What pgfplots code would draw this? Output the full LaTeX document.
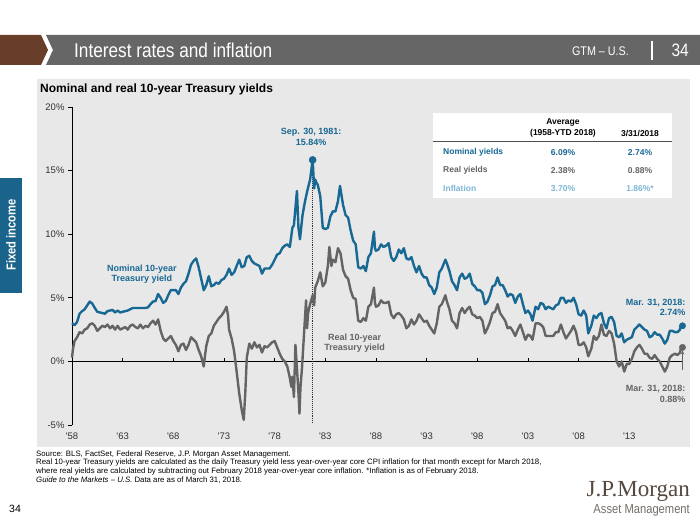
\documentclass[border=0pt]{standalone}
\usepackage{fontspec}
\setmainfont{Liberation Sans}
\newfontfamily\condfont[FakeStretch=0.86,Ligatures=TeX]{Liberation Sans}
\newfontfamily\seriffont[Ligatures=TeX]{Liberation Serif}
\usepackage{pgfplots}
\pgfplotsset{compat=1.18}
\definecolor{jpblue}{RGB}{24,104,148}
\definecolor{jpgray}{RGB}{100,100,100}
\definecolor{jplight}{RGB}{125,182,214}
\definecolor{panel}{RGB}{232,232,232}
\definecolor{hdrgray}{RGB}{102,102,102}
\definecolor{hdrbrown}{RGB}{104,62,42}
\definecolor{tabblue}{RGB}{26,100,140}
\definecolor{tickgray}{RGB}{50,50,50}
\definecolor{logo}{RGB}{85,72,62}
\begin{document}
\begin{tikzpicture}
\path[use as bounding box] (0pt,0pt) rectangle (700pt,525pt);
\fill[white] (0pt,0pt) rectangle (700pt,525pt);
\begin{scope}[x=1pt,y=-1pt,shift={(0pt,525pt)}]
% header
\fill[hdrbrown] (0,35) -- (41,35) -- (48,50) -- (41,65) -- (0,65) -- cycle;
\fill[hdrgray] (46,35) -- (700,35) -- (700,65) -- (46,65) -- (53,50) -- cycle;
\node[anchor=west,text=white,inner sep=0pt,font=\condfont\fontsize{20}{22}\selectfont] at (74,50) {Interest rates and inflation};
\node[anchor=east,text=white,inner sep=0pt,font=\condfont\fontsize{12.5}{14}\selectfont] at (629,51) {GTM – U.S.};
\draw[white,line width=1.3pt] (652,41) -- (652,60);
\node[anchor=east,text=white,inner sep=0pt,font=\condfont\fontsize{18}{20}\selectfont] at (689,50) {34};
% side tab
\fill[tabblue] (0,178) rectangle (22,293);
\node[rotate=90,text=white,inner sep=0pt,font=\condfont\bfseries\fontsize{13}{15}\selectfont] at (11,235) {Fixed income};
% panel
\fill[panel] (37,79) rectangle (690,447);
\node[anchor=west,inner sep=0pt,font=\bfseries\fontsize{12}{14}\selectfont] at (40,89) {Nominal and real 10-year Treasury yields};
% table
\fill[white] (433,113) rectangle (672,198);
\draw[jpgray!80!black,line width=1pt] (433,142) -- (672,142);
\begin{scope}[every node/.style={inner sep=0pt,font=\bfseries\fontsize{8.5}{11}\selectfont}]
\node[align=center] at (563,128) {Average\\(1958-YTD 2018)};
\node at (640,134) {3/31/2018};
\node[anchor=west,text=jpblue] at (443,152.5) {Nominal yields};
\node[text=jpblue] at (563,152.5) {6.09\%};
\node[text=jpblue] at (640,152.5) {2.74\%};
\node[anchor=west,text=jpgray] at (443,170.5) {Real yields};
\node[text=jpgray] at (563,170.5) {2.38\%};
\node[text=jpgray] at (640,170.5) {0.88\%};
\node[anchor=west,text=jplight] at (443,188.5) {Inflation};
\node[text=jplight] at (563,188.5) {3.70\%};
\node[text=jplight] at (640,188.5) {1.86\%*};
\end{scope}
% footnotes
\begin{scope}[every node/.style={anchor=base west,inner sep=0pt,font=\fontsize{7.8}{9}\selectfont}]
\node at (36,456) {Source: BLS, FactSet, Federal Reserve, J.P. Morgan Asset Management.};
\node at (36,464.7) {Real 10-year Treasury yields are calculated as the daily Treasury yield less year-over-year core CPI inflation for that month except for March 2018,};
\node at (36,473.4) {where real yields are calculated by subtracting out February 2018 year-over-year core inflation. *Inflation is as of February 2018.};
\node at (36,482.1) {\textit{Guide to the Markets – U.S.} Data are as of March 31, 2018.};
\end{scope}
\node[anchor=base west,inner sep=0pt,font=\fontsize{10.5}{12}\selectfont] at (9,512) {34};
% logo
\node[anchor=base east,inner sep=0pt,text=logo,font=\seriffont\fontsize{23}{26}\selectfont] at (690,496) {J.P.Morgan};
\node[anchor=base east,inner sep=0pt,text=logo!80,font=\condfont\fontsize{13}{15}\selectfont] at (690,513) {Asset Management};
\end{scope}

\begin{axis}[
  at={(72pt,100pt)}, anchor=south west,
  scale only axis, width=612pt, height=318pt,
  xmin=1958, xmax=2018.4, ymin=-5, ymax=20,
  axis x line=bottom, axis y line=left,
  axis line style={-},
  x axis line style={draw=none},
  y axis line style={black,line width=0.8pt},
  xtick={1958,1963,1968,1973,1978,1983,1988,1993,1998,2003,2008,2013},
  xticklabels={\textquotesingle58,\textquotesingle63,\textquotesingle68,\textquotesingle73,\textquotesingle78,\textquotesingle83,\textquotesingle88,\textquotesingle93,\textquotesingle98,\textquotesingle03,\textquotesingle08,\textquotesingle13},
  ytick={-5,0,5,10,15,20},
  yticklabel={\pgfmathprintnumber{\tick}\%},
  xtick style={draw=none},
  ytick style={black,line width=0.8pt},
  tick align=outside, major tick length=4pt,
  ticklabel style={font=\fontsize{9.5}{11}\selectfont, text=tickgray},
  /pgf/number format/assume math mode=true,
  clip=false,
]
\draw[black,line width=0.8pt] (axis cs:1958,0) -- (axis cs:2018.3,0);
\pgfplotsinvokeforeach{1963,1968,1973,1978,1983,1988,1993,1998,2003,2008,2013}{
  \draw[black,line width=0.6pt] (axis cs:#1,0) -- ++(0pt,3pt);
}
\draw[black!80,line width=0.9pt,densely dotted] (axis cs:1981.75,15.84) -- (axis cs:1981.75,-4.9);

\addplot[jpblue,line width=2.4pt,line join=round] coordinates {
(1958.00,3.00)(1958.25,2.85)(1958.50,3.10)(1958.75,3.75)
(1959.00,3.95)(1959.25,4.10)(1959.50,4.40)(1959.75,4.70)
(1960.00,4.55)(1960.25,4.20)(1960.50,3.90)(1960.75,3.85)
(1961.00,3.80)(1961.25,3.75)(1961.50,3.95)(1961.75,4.00)
(1962.00,4.05)(1962.25,3.85)(1962.50,4.00)(1962.75,3.85)
(1963.00,3.90)(1963.25,3.95)(1963.50,4.00)(1963.75,4.10)
(1964.00,4.20)(1964.25,4.20)(1964.50,4.20)(1964.75,4.20)
(1965.00,4.20)(1965.25,4.20)(1965.50,4.25)(1965.75,4.50)
(1966.00,4.70)(1966.25,4.75)(1966.50,5.30)(1966.75,5.00)
(1967.00,4.60)(1967.25,4.75)(1967.50,5.20)(1967.75,5.60)
(1968.00,5.60)(1968.25,5.60)(1968.50,5.30)(1968.75,5.80)
(1969.00,6.10)(1969.25,6.30)(1969.50,6.90)(1969.75,7.60)
(1970.00,7.90)(1970.25,8.10)(1970.50,7.40)(1970.75,6.50)
(1971.00,5.60)(1971.25,6.00)(1971.50,6.70)(1971.75,5.90)
(1972.00,6.00)(1972.25,6.20)(1972.50,6.10)(1972.75,6.40)
(1973.00,6.50)(1973.25,6.80)(1973.50,7.30)(1973.75,6.80)
(1974.00,7.00)(1974.25,7.50)(1974.50,8.00)(1974.75,7.40)
(1975.00,7.50)(1975.25,8.20)(1975.50,8.30)(1975.75,7.90)
(1976.00,7.70)(1976.25,7.60)(1976.50,7.50)(1976.75,6.90)
(1977.00,7.30)(1977.25,7.30)(1977.50,7.30)(1977.75,7.60)
(1978.00,8.00)(1978.25,8.40)(1978.50,8.50)(1978.75,8.90)
(1979.00,9.10)(1979.25,9.20)(1979.50,9.00)(1979.75,10.50)
(1979.90,10.70)(1980.10,12.50)(1980.20,13.40)(1980.35,10.50)
(1980.50,9.60)(1980.75,11.50)(1981.00,12.60)(1981.25,13.50)
(1981.50,14.30)(1981.75,15.84)(1981.90,13.60)(1982.00,14.30)
(1982.15,14.00)(1982.25,13.90)(1982.50,13.00)(1982.65,11.50)
(1982.75,10.50)(1983.00,10.40)(1983.25,10.50)(1983.50,11.40)
(1983.75,11.80)(1984.00,11.80)(1984.25,12.60)(1984.45,13.80)
(1984.75,12.30)(1985.00,11.50)(1985.25,11.30)(1985.50,10.30)
(1985.75,9.50)(1986.00,9.20)(1986.25,7.40)(1986.50,7.30)
(1986.75,7.50)(1987.00,7.10)(1987.25,8.20)(1987.50,8.50)
(1987.80,10.20)(1987.90,8.90)(1988.00,8.70)(1988.25,8.80)
(1988.50,9.20)(1988.75,9.00)(1989.00,9.10)(1989.25,9.30)
(1989.50,8.20)(1989.75,7.90)(1990.00,8.20)(1990.25,8.80)
(1990.50,8.50)(1990.75,8.90)(1991.00,8.10)(1991.25,8.00)
(1991.50,8.20)(1991.75,7.50)(1992.00,7.00)(1992.25,7.50)
(1992.50,6.90)(1992.75,6.60)(1993.00,6.60)(1993.25,6.00)
(1993.50,5.80)(1993.75,5.30)(1994.00,5.80)(1994.25,7.00)
(1994.50,7.30)(1994.85,8.00)(1995.00,7.70)(1995.25,7.10)
(1995.50,6.30)(1995.75,6.00)(1996.00,5.60)(1996.25,6.60)
(1996.50,6.90)(1996.75,6.50)(1997.00,6.60)(1997.25,6.90)
(1997.50,6.10)(1997.75,5.90)(1998.00,5.60)(1998.25,5.60)
(1998.50,5.40)(1998.75,4.50)(1999.00,4.70)(1999.25,5.20)
(1999.50,5.90)(1999.75,6.00)(2000.00,6.60)(2000.25,6.00)
(2000.50,6.00)(2000.75,5.60)(2001.00,5.10)(2001.25,5.30)
(2001.50,5.20)(2001.75,4.60)(2002.00,5.10)(2002.25,5.30)
(2002.50,4.50)(2002.75,3.80)(2003.00,4.00)(2003.25,3.70)
(2003.45,3.20)(2003.75,4.30)(2004.00,4.10)(2004.25,4.60)
(2004.50,4.50)(2004.75,4.10)(2005.00,4.30)(2005.25,4.20)
(2005.50,4.10)(2005.75,4.40)(2006.00,4.50)(2006.25,5.00)
(2006.50,5.00)(2006.75,4.60)(2007.00,4.80)(2007.25,4.70)
(2007.50,5.00)(2007.75,4.50)(2008.00,3.70)(2008.25,3.60)
(2008.50,4.00)(2008.75,3.60)(2008.95,2.20)(2009.25,2.80)
(2009.50,3.60)(2009.75,3.40)(2010.00,3.70)(2010.25,3.80)
(2010.50,3.00)(2010.75,2.60)(2011.00,3.40)(2011.25,3.50)
(2011.50,3.10)(2011.75,2.00)(2012.00,1.90)(2012.25,2.20)
(2012.50,1.50)(2012.75,1.70)(2013.00,1.80)(2013.25,1.90)
(2013.50,2.50)(2013.75,2.70)(2014.00,2.90)(2014.25,2.70)
(2014.50,2.50)(2014.75,2.40)(2015.00,1.90)(2015.25,2.00)
(2015.50,2.30)(2015.75,2.10)(2016.00,2.10)(2016.25,1.80)
(2016.50,1.40)(2016.75,1.70)(2017.00,2.40)(2017.25,2.40)
(2017.50,2.30)(2017.75,2.30)(2018.00,2.50)(2018.10,2.85)
(2018.25,2.80)
};
\addplot[jpgray,line width=2.4pt,line join=round] coordinates {
(1958.00,0.30)(1958.10,1.00)(1958.25,1.60)(1958.50,1.90)(1958.75,2.30)
(1959.00,2.20)(1959.25,2.50)(1959.50,2.60)(1959.75,2.90)
(1960.00,3.00)(1960.25,2.80)(1960.50,2.40)(1960.75,2.60)
(1961.00,2.80)(1961.25,2.70)(1961.50,2.90)(1961.75,2.60)
(1962.00,2.80)(1962.25,2.50)(1962.50,2.80)(1962.75,2.50)
(1963.00,2.60)(1963.25,2.70)(1963.50,2.50)(1963.75,2.80)
(1964.00,2.90)(1964.25,2.70)(1964.50,2.60)(1964.75,2.90)
(1965.00,2.60)(1965.25,2.80)(1965.50,2.70)(1965.75,3.00)
(1966.00,3.20)(1966.25,2.90)(1966.50,3.30)(1966.75,2.40)
(1967.00,1.80)(1967.25,1.60)(1967.50,1.80)(1967.75,2.00)
(1968.00,1.60)(1968.25,1.30)(1968.50,0.80)(1968.75,1.30)
(1969.00,1.40)(1969.25,0.90)(1969.50,1.30)(1969.75,1.90)
(1970.00,1.70)(1970.25,1.50)(1970.50,0.90)(1970.75,0.40)
(1971.00,-0.40)(1971.15,0.60)(1971.25,1.20)(1971.50,2.00)(1971.75,2.20)
(1972.00,2.80)(1972.25,3.10)(1972.50,3.40)(1972.75,3.60)
(1973.00,3.90)(1973.25,4.30)(1973.40,3.60)(1973.50,2.50)(1973.75,1.80)
(1974.00,0.80)(1974.25,-0.80)(1974.50,-2.50)(1974.75,-3.80)(1974.95,-4.60)
(1975.10,-2.50)(1975.25,0.30)(1975.50,1.40)(1975.75,1.00)
(1976.00,1.50)(1976.25,1.10)(1976.50,1.30)(1976.75,0.70)
(1977.00,1.20)(1977.25,1.10)(1977.50,1.30)(1977.75,1.50)
(1978.00,1.60)(1978.25,1.10)(1978.50,0.60)(1978.75,0.20)
(1979.00,0.00)(1979.25,-0.40)(1979.50,-1.30)(1979.65,-2.00)
(1979.75,-1.20)(1979.90,-2.80)(1980.05,1.30)(1980.20,-0.50)
(1980.35,-2.50)(1980.45,-4.10)(1980.55,-2.00)(1980.70,-0.50)
(1980.85,1.50)(1981.00,3.50)(1981.10,4.80)(1981.20,2.60)
(1981.30,3.80)(1981.50,4.50)(1981.75,5.20)(1981.90,4.40)
(1982.00,5.80)(1982.25,6.30)(1982.50,7.00)(1982.75,5.90)
(1983.00,6.20)(1983.25,7.50)(1983.40,9.00)(1983.60,7.50)(1983.75,8.00)
(1984.00,7.80)(1984.25,8.90)(1984.50,8.50)(1984.75,7.20)
(1985.00,6.70)(1985.25,6.50)(1985.50,5.60)(1985.75,5.00)
(1986.00,4.90)(1986.25,3.20)(1986.50,3.10)(1986.75,3.40)
(1987.00,3.20)(1987.25,4.30)(1987.50,4.50)(1987.80,5.80)(1987.90,4.60)
(1988.00,4.30)(1988.25,4.40)(1988.50,4.80)(1988.75,4.60)
(1989.00,4.60)(1989.25,4.70)(1989.50,3.70)(1989.75,3.40)
(1990.00,3.70)(1990.25,3.80)(1990.50,3.60)(1990.75,3.30)
(1991.00,2.60)(1991.25,2.80)(1991.50,3.30)(1991.75,2.90)
(1992.00,3.20)(1992.25,3.70)(1992.50,3.40)(1992.75,3.10)
(1993.00,3.20)(1993.25,2.80)(1993.50,2.50)(1993.75,2.20)
(1994.00,3.00)(1994.25,4.30)(1994.50,4.50)(1994.85,5.20)
(1995.00,4.70)(1995.25,4.10)(1995.50,3.20)(1995.75,3.00)
(1996.00,2.60)(1996.25,3.80)(1996.50,4.20)(1996.75,3.80)
(1997.00,4.10)(1997.25,4.30)(1997.50,3.70)(1997.75,3.60)
(1998.00,3.40)(1998.25,3.50)(1998.50,3.20)(1998.75,2.20)
(1999.00,2.60)(1999.25,3.10)(1999.50,3.80)(1999.75,3.90)
(2000.00,4.50)(2000.25,3.80)(2000.50,3.50)(2000.75,3.20)
(2001.00,2.60)(2001.25,2.70)(2001.50,2.40)(2001.75,2.00)
(2002.00,2.50)(2002.25,2.90)(2002.50,2.30)(2002.75,1.70)
(2003.00,2.10)(2003.25,2.00)(2003.45,1.70)(2003.75,3.00)
(2004.00,3.00)(2004.25,2.90)(2004.50,2.70)(2004.75,2.00)
(2005.00,2.00)(2005.25,2.00)(2005.50,2.00)(2005.75,2.30)
(2006.00,2.30)(2006.25,2.90)(2006.50,2.30)(2006.75,1.80)
(2007.00,2.10)(2007.25,2.40)(2007.50,2.80)(2007.75,2.30)
(2008.00,1.30)(2008.25,1.30)(2008.50,1.50)(2008.75,1.10)
(2008.95,0.40)(2009.25,1.00)(2009.50,2.00)(2009.75,1.70)
(2010.00,2.00)(2010.25,2.90)(2010.50,2.10)(2010.75,2.00)
(2011.00,2.40)(2011.25,2.20)(2011.50,1.40)(2011.75,0.00)
(2012.00,-0.40)(2012.25,0.00)(2012.50,-0.80)(2012.75,-0.20)
(2013.00,-0.20)(2013.25,0.20)(2013.50,0.80)(2013.75,1.10)
(2014.00,1.30)(2014.25,1.00)(2014.50,0.60)(2014.75,0.60)
(2015.00,0.30)(2015.25,0.20)(2015.50,0.50)(2015.75,0.20)
(2016.00,0.00)(2016.25,-0.40)(2016.50,-0.80)(2016.75,-0.40)
(2017.00,0.30)(2017.25,0.50)(2017.50,0.60)(2017.75,0.50)
(2018.00,0.70)(2018.10,1.00)(2018.25,1.10)
};
\addplot[jpblue,only marks,mark=*,mark size=3.6pt] coordinates {(1981.75,15.84)};
\addplot[jpblue,only marks,mark=*,mark size=3.2pt] coordinates {(2018.25,2.80)};
\addplot[jpgray,only marks,mark=*,mark size=3.2pt] coordinates {(2018.25,1.10)};
\draw[jpgray,line width=0.7pt,-stealth] (axis cs:2018.25,-0.7) -- (axis cs:2018.25,0.85);
\begin{scope}[every node/.style={inner sep=0pt,font=\bfseries\fontsize{9}{10.5}\selectfont}]
\node[text=jpblue,align=center] at (axis cs:1981.6,17.64) {Sep. 30, 1981:\\15.84\%};
\node[text=jpblue,align=center] at (axis cs:1964.9,6.85) {Nominal 10-year\\Treasury yield};
\node[text=jpgray,align=center] at (axis cs:1985.9,1.42) {Real 10-year\\Treasury yield};
\node[text=jpblue,align=right,anchor=east] at (axis cs:2018.55,4.25) {Mar. 31, 2018:\\2.74\%};
\node[text=jpgray,align=right,anchor=east] at (axis cs:2018.55,-2.55) {Mar. 31, 2018:\\0.88\%};
\end{scope}
\end{axis}
\end{tikzpicture}
\end{document}
